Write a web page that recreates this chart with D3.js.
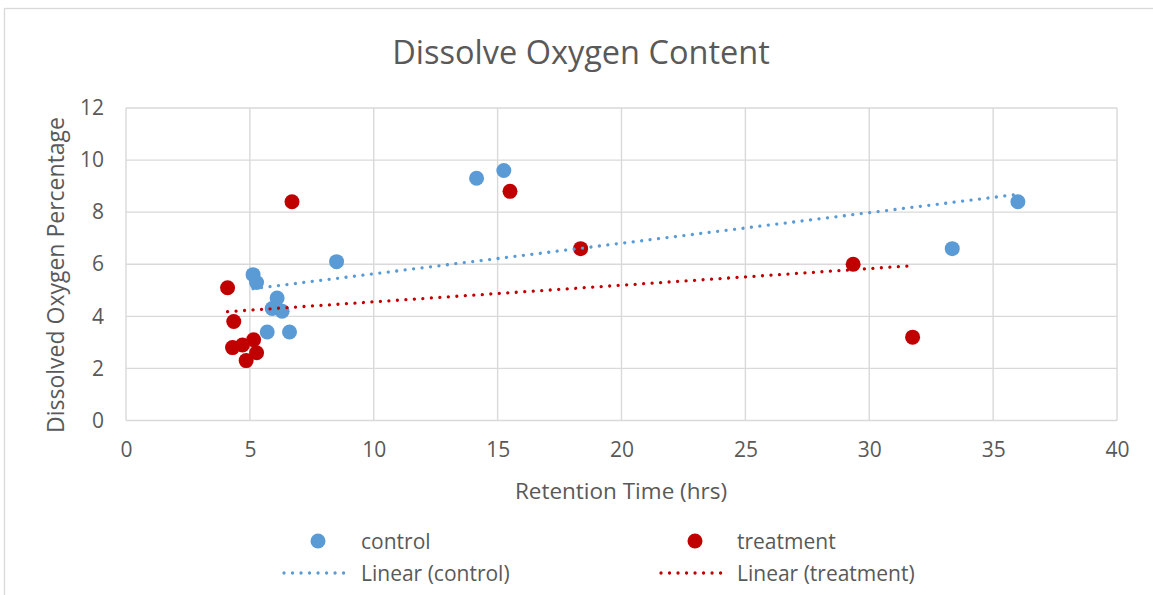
<!DOCTYPE html>
<html>
<head>
<meta charset="utf-8">
<script src="https://cdn.jsdelivr.net/npm/d3@7"></script>
<style>
  html, body { margin: 0; padding: 0; background: #ffffff; }
  svg { display: block; }
  text { font-family: "Open Sans", "Noto Sans", sans-serif; fill: #595959; }
</style>
</head>
<body>
<svg id="chart" width="1153" height="595"></svg>
<script>
// Retention time (hrs) vs dissolved oxygen (%) for two groups
const controlX = [5.13, 5.27, 6.1, 5.9, 6.3, 5.7, 6.6, 8.5, 14.15, 15.25, 33.35, 36.0];
const controlY = [5.6, 5.3, 4.7, 4.3, 4.2, 3.4, 3.4, 6.1, 9.3, 9.6, 6.6, 8.4];
const treatmentX = [4.1, 4.35, 4.3, 4.7, 5.15, 5.27, 4.85, 6.7, 15.5, 18.35, 29.35, 31.75];
const treatmentY = [5.1, 3.8, 2.8, 2.9, 3.1, 2.6, 2.3, 8.4, 8.8, 6.6, 6.0, 3.2];
const xTicks = [0, 5, 10, 15, 20, 25, 30, 35, 40];
const yTicks = [0, 2, 4, 6, 8, 10, 12];
const seriesNames = ["control", "treatment"];

const colors = { control: "#5B9BD5", treatment: "#C00000" };
const grid = "#D9D9D9";

const svg = d3.select("#chart");

// Outer chart frame
svg.append("rect")
  .attr("x", 4.5).attr("y", 8.5)
  .attr("width", 1170).attr("height", 620)
  .attr("fill", "#fff").attr("stroke", grid).attr("stroke-width", 1.3);

const x = d3.scaleLinear().domain([0, 40]).range([126, 1117]);
const y = d3.scaleLinear().domain([0, 12]).range([420.5, 108]);

// Gridlines
const gridG = svg.append("g");
gridG.selectAll("line.v").data(xTicks).join("line")
  .attr("x1", d => x(d)).attr("x2", d => x(d))
  .attr("y1", y(0)).attr("y2", y(12))
  .attr("stroke", grid).attr("stroke-width", 1.4);
gridG.selectAll("line.h").data(yTicks).join("line")
  .attr("x1", x(0)).attr("x2", x(40))
  .attr("y1", d => y(d)).attr("y2", d => y(d))
  .attr("stroke", grid).attr("stroke-width", 1.4);

// Axes (labels only)
const xAxis = svg.append("g")
  .attr("transform", `translate(0,${y(0) + 17})`)
  .call(d3.axisBottom(x).tickValues(xTicks).tickSize(0).tickPadding(0));
xAxis.select(".domain").remove();
xAxis.selectAll("text").attr("font-size", 21).attr("dy", "0.95em")
  .style("font-family", '"Open Sans", sans-serif').attr("fill", "#595959");

const yAxis = svg.append("g")
  .attr("transform", `translate(${x(0) - 22},0)`)
  .call(d3.axisLeft(y).tickValues(yTicks).tickSize(0).tickPadding(0));
yAxis.select(".domain").remove();
yAxis.selectAll("text").attr("font-size", 21)
  .style("font-family", '"Open Sans", sans-serif').attr("fill", "#595959");

// Titles
svg.append("text")
  .attr("x", 581).attr("y", 64)
  .attr("text-anchor", "middle")
  .attr("font-size", 32.5)
  .text("Dissolve Oxygen Content");

svg.append("text")
  .attr("x", 621).attr("y", 499)
  .attr("text-anchor", "middle")
  .attr("font-size", 22.5)
  .text("Retention Time (hrs)");

svg.append("text")
  .attr("transform", "translate(64,275) rotate(-90)")
  .attr("text-anchor", "middle")
  .attr("font-size", 23)
  .text("Dissolved Oxygen Percentage");

// Least-squares fit, as a spreadsheet linear trendline
function linearFit(xs, ys) {
  const mx = d3.mean(xs), my = d3.mean(ys);
  let sxy = 0, sxx = 0;
  xs.forEach((v, i) => { sxy += (v - mx) * (ys[i] - my); sxx += (v - mx) ** 2; });
  const slope = sxy / sxx;
  const intercept = my - slope * mx;
  const [x0, x1] = d3.extent(xs);
  return [[x0, intercept + slope * x0], [x1, intercept + slope * x1]];
}

const series = [
  { name: seriesNames[0], xs: controlX, ys: controlY, color: colors.control },
  { name: seriesNames[1], xs: treatmentX, ys: treatmentY, color: colors.treatment }
];

// Markers
series.forEach(s => {
  svg.append("g").selectAll("circle")
    .data(s.xs.map((v, i) => [v, s.ys[i]]))
    .join("circle")
    .attr("cx", d => x(d[0])).attr("cy", d => y(d[1]))
    .attr("r", 7.5)
    .attr("fill", s.color);
});

// Trendlines (round-dot style)
const line = d3.line().x(d => x(d[0])).y(d => y(d[1]));
series.forEach(s => {
  svg.append("path")
    .attr("d", line(linearFit(s.xs, s.ys)))
    .attr("fill", "none")
    .attr("stroke", s.color)
    .attr("stroke-width", 3.3)
    .attr("stroke-linecap", "round")
    .attr("stroke-dasharray", "0.01 8.5");
});

// Legend
const legendCols = [{ mark: 318, line: [284, 350], text: 361 }, { mark: 695, line: [661, 727], text: 737 }];
series.forEach((s, i) => {
  const c = legendCols[i];
  svg.append("circle").attr("cx", c.mark).attr("cy", 541).attr("r", 7.5).attr("fill", s.color);
  svg.append("text").attr("x", c.text).attr("y", 549).attr("font-size", 21).text(s.name);
  svg.append("line")
    .attr("x1", c.line[0]).attr("x2", c.line[1]).attr("y1", 573).attr("y2", 573)
    .attr("stroke", s.color).attr("stroke-width", 3.3)
    .attr("stroke-linecap", "round").attr("stroke-dasharray", "0.01 8.5");
  svg.append("text").attr("x", c.text).attr("y", 581).attr("font-size", 21)
    .text(`Linear (${s.name})`);
});
</script>
</body>
</html>
